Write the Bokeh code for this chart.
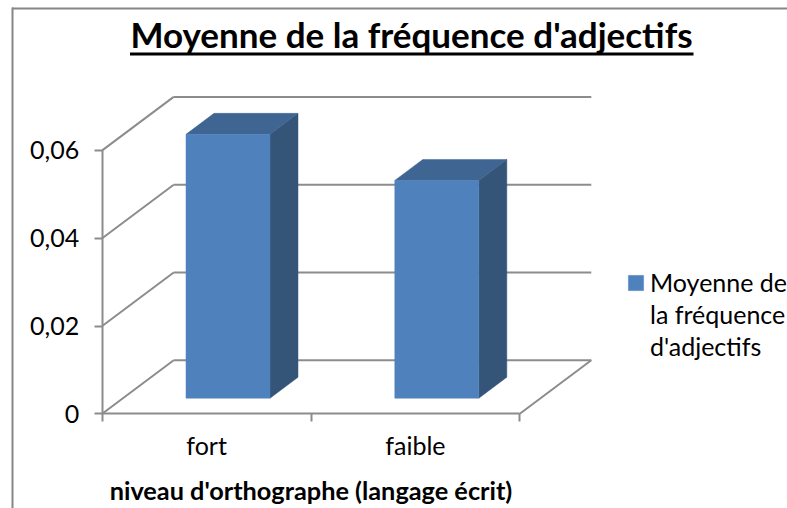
from bokeh.embed import file_html
from bokeh.resources import INLINE
from bokeh.plotting import figure
from bokeh.models import (LinearAxis, FixedTicker, Range1d, Label, BoxAnnotation,
                          Legend, LegendItem)
from bokeh.core.properties import value

# ---- data ----
categories = ["fort", "faible"]
moyenne = [0.0601, 0.0496]
y_ticks = [0, 0.02, 0.04, 0.06]
y_tick_labels = ["0", "0,02", "0,04", "0,06"]
title_text = "Moyenne de la fréquence d'adjectifs"
x_title = "niveau d'orthographe (langage écrit)"
legend_lines = ["Moyenne de", "la fréquence", "d'adjectifs"]

# ---- styles / layout ----
W, H = 787, 508
FONT = "Lato"
GREY = "#8c8c8c"
FRONT, TOP, SIDE = "#4f81bd", "#3f6592", "#345478"
px_x = 1 / 208.8            # slot units per pixel
px_y = 0.02 / 87.8          # value units per pixel
x_start = 0.5 - 101.7 * px_x
y_start = -(H - 413.3) * px_y
wall_dx, wall_dy = 71.5 * px_x, 53.5 * px_y
bar_w = 84 * px_x
bar_shift = 21.4 * px_x
bar_base = 15.6 * px_y
bar_dx, bar_dy = 28 * px_x, 21 * px_y

p = figure(width=W, height=H, output_backend="svg", toolbar_location=None,
           x_range=Range1d(x_start, x_start + W * px_x),
           y_range=Range1d(y_start, y_start + H * px_y),
           min_border=0, x_axis_type=None, y_axis_type=None,
           outline_line_color=None, background_fill_color="white",
           border_fill_color="white")
p.grid.visible = False

n = len(categories)
x_first, x_last = 0.5, n + 0.5

# walls and floor
wx0, wy0, wx1, wy1 = [], [], [], []
for t in y_ticks:
    wx0 += [x_first, x_first + wall_dx]
    wy0 += [t, t + wall_dy]
    wx1 += [x_first + wall_dx, x_last + wall_dx]
    wy1 += [t + wall_dy, t + wall_dy]
wx0.append(x_last); wy0.append(0); wx1.append(x_last + wall_dx); wy1.append(wall_dy)
p.segment(wx0, wy0, wx1, wy1, line_color=GREY, line_width=2)

# 3D bars
fx, fy, tx, ty, sx, sy = [], [], [], [], [], []
for i, v in enumerate(moyenne):
    l = i + 1 + bar_shift - bar_w / 2
    r = l + bar_w
    b = bar_base
    u = bar_base + v
    fx.append([l, r, r, l]); fy.append([b, b, u, u])
    tx.append([l, r, r + bar_dx, l + bar_dx]); ty.append([u, u, u + bar_dy, u + bar_dy])
    sx.append([r, r + bar_dx, r + bar_dx, r]); sy.append([b, b + bar_dy, u + bar_dy, u])
p.patches(sx, sy, fill_color=SIDE, line_color=SIDE, line_width=0.5)
p.patches(tx, ty, fill_color=TOP, line_color=TOP, line_width=0.5)
front = p.patches(fx, fy, fill_color=FRONT, line_color=FRONT, line_width=0.5)

# axes
yaxis = LinearAxis(fixed_location=x_first, ticker=FixedTicker(ticks=y_ticks),
                   major_label_overrides=dict(zip(y_ticks, y_tick_labels)),
                   bounds=(0, y_ticks[-1]), axis_line_color=GREY, axis_line_width=2,
                   major_tick_line_color=GREY, major_tick_line_width=2,
                   major_tick_out=8, major_tick_in=0, minor_tick_line_color=None,
                   major_label_text_font=FONT, major_label_text_font_size="25px",
                   major_label_text_color="black", major_label_standoff=15, level="underlay")
p.add_layout(yaxis, "left")

xaxis = LinearAxis(fixed_location=0,
                   ticker=FixedTicker(ticks=list(range(1, n + 1)),
                                      minor_ticks=[x_first + i for i in range(n + 1)]),
                   major_label_overrides={i + 1: c for i, c in enumerate(categories)},
                   bounds=(x_first, x_last), axis_line_color=GREY, axis_line_width=2,
                   major_tick_line_color=None, major_tick_out=8, major_tick_in=0,
                   minor_tick_line_color=GREY, minor_tick_line_width=2,
                   minor_tick_out=8, minor_tick_in=0,
                   major_label_text_font=FONT, major_label_text_font_size="25px",
                   major_label_text_color="black", major_label_standoff=8,
                   axis_label=x_title, axis_label_text_font=FONT,
                   axis_label_text_font_size="25.3px", axis_label_text_font_style="bold",
                   axis_label_text_color="black", axis_label_standoff=12, level="underlay")
p.add_layout(xaxis, "below")

# title (underlined)
p.add_layout(Label(x=411, y=H - 33, x_units="screen", y_units="screen", text=title_text,
                   text_font=FONT, text_font_style="bold", text_font_size="35px",
                   text_color="black", text_align="center", text_baseline="alphabetic"))
p.add_layout(BoxAnnotation(left=129.5, right=693, top=H - 52, bottom=H - 55,
                           left_units="screen", right_units="screen",
                           top_units="screen", bottom_units="screen",
                           fill_color="black", fill_alpha=1, line_color=None))

# chart frame: only the top and left edges fall inside the picture
for edge in [dict(left=11.5, right=W, top=H - 7, bottom=H - 9),
             dict(left=11, right=13, top=H - 7, bottom=0)]:
    p.add_layout(BoxAnnotation(left_units="screen", right_units="screen",
                               top_units="screen", bottom_units="screen",
                               fill_color="#868686", fill_alpha=1, line_color=None, **edge))

# legend
items = [LegendItem(label=value(legend_lines[0]), renderers=[front])]
items += [LegendItem(label=value(t), renderers=[]) for t in legend_lines[1:]]
legend = Legend(items=items, location=(626, 147), orientation="vertical",
                background_fill_alpha=0, border_line_color=None,
                margin=0, padding=0, spacing=2, glyph_width=19, glyph_height=19, label_standoff=5,
                label_text_font=FONT, label_text_font_size="25px", label_text_color="black")
p.add_layout(legend, "center")

open("out.html", "w").write(file_html(p, INLINE))
